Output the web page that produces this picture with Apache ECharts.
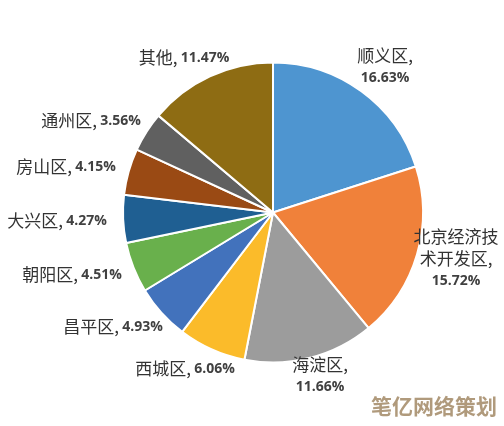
<!DOCTYPE html>
<html>
<head>
<meta charset="utf-8">
<style>
    html, body { margin: 0; padding: 0; background: #fff; }
    #main { width: 504px; height: 426px; }
</style>
<script src="https://cdn.jsdelivr.net/npm/echarts@6/dist/echarts.min.js"></script>
</head>
<body>
<div id="main"></div>
<script>
var categories = ['顺义区', '北京经济技\n术开发区', '海淀区', '西城区', '昌平区', '朝阳区', '大兴区', '房山区', '通州区', '其他'];
var percents = [16.63, 15.72, 11.66, 6.06, 4.93, 4.51, 4.27, 4.15, 3.56, 11.47];
var colors = ['#4E95D0', '#F0813A', '#9C9C9C', '#FBBB2A', '#4272BC', '#69B04C', '#1F5F92', '#9A4A14', '#606060', '#8E6C13'];
// 百分比另起一行的扇区
var twoLine = [true, true, true, false, false, false, false, false, false, false];
// 标签中心位置
var labelX = [385, 456, 320, 185, 113, 72, 57, 66, 91, 184];
var labelY = [67, 259, 376, 369, 327, 275, 221, 167, 121, 58];

var pieData = [];
for (var i = 0; i < categories.length; i++) {
    pieData.push({name: categories[i], value: percents[i], itemStyle: {color: colors[i]}});
}

var myChart = echarts.init(document.getElementById('main'));

myChart.setOption({
    animation: false,
    backgroundColor: '#fff',
    series: [{
        type: 'pie',
        center: [273, 212.5],
        radius: [0, 150],
        startAngle: 90,
        clockwise: true,
        avoidLabelOverlap: false,
        itemStyle: {borderColor: '#fff', borderWidth: 2},
        label: {
            show: true,
            position: 'outside',
            align: 'center',
            formatter: function (p) {
                var sep = twoLine[p.dataIndex] ? '\n' : ' ';
                var names = p.name.split('\n');
                var head = names.map(function (n, k) {
                    return '{n|' + n + (k === names.length - 1 ? ',' : '') + '}';
                }).join('\n');
                return head + sep + '{p|' + p.value.toFixed(2) + '%}';
            },
            rich: {
                n: {fontFamily: 'Noto Sans CJK SC', fontSize: 17, color: '#333', lineHeight: 22},
                p: {fontFamily: 'Open Sans', fontWeight: 'bold', fontSize: 14, color: '#404040', lineHeight: 22}
            }
        },
        labelLine: {show: false},
        labelLayout: function (params) {
            return {
                x: labelX[params.dataIndex],
                y: labelY[params.dataIndex],
                align: 'center',
                verticalAlign: 'middle'
            };
        },
        data: pieData
    }],
    graphic: [{
        type: 'text',
        right: 7,
        top: 396,
        style: {
            text: '笔亿网络策划',
            fontFamily: 'Noto Sans CJK SC',
            fontWeight: 'bold',
            fontSize: 21,
            fill: '#B09A7C'
        }
    }]
});
</script>
</body>
</html>
